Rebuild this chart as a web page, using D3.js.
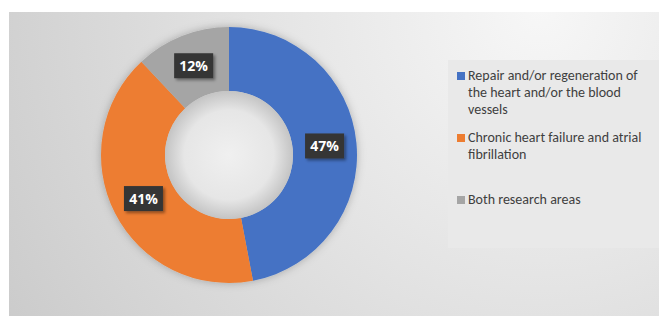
<!DOCTYPE html>
<html lang="en">
<head>
  <meta charset="UTF-8">
  <title>Research areas donut</title>
  <script src="https://d3js.org/d3.v7.min.js"></script>
  <style>
    body { margin: 0; background: #fff; }
    .legend-text { font-family: Carlito, Lato, "Open Sans", sans-serif; font-size: 14px; fill: #3f3f3f; }
    .pct { font-family: "Open Sans", Lato, sans-serif; font-size: 14px; font-weight: 700; fill: #fff; }
  </style>
</head>
<body>
<svg id="chart" width="659" height="316"></svg>

<script>
  // Data
  const categories = [
    "Repair and/or regeneration of the heart and/or the blood vessels",
    "Chronic heart failure and atrial fibrillation",
    "Both research areas"
  ];
  const values = [47, 41, 12];
  const colors = ["#4472c4", "#ed7d31", "#a5a5a5"];
  // legend text broken into lines as in the picture
  const legendLines = [
    ["Repair and/or regeneration of", "the heart and/or the blood", "vessels"],
    ["Chronic heart failure and atrial", "fibrillation"],
    ["Both research areas"]
  ];

  const width = 659, height = 316;
  const svg = d3.select("#chart");
  const defs = svg.append("defs");

  // background panel gradient
  const bg = defs.append("radialGradient")
    .attr("id", "bg")
    .attr("gradientUnits", "userSpaceOnUse")
    .attr("cx", 540).attr("cy", 10).attr("r", 620);
  bg.append("stop").attr("offset", "0%").attr("stop-color", "#f7f7f7");
  bg.append("stop").attr("offset", "45%").attr("stop-color", "#e4e4e4");
  bg.append("stop").attr("offset", "100%").attr("stop-color", "#cbcbcb");

  // hole shading
  const hole = defs.append("radialGradient").attr("id", "hole");
  hole.append("stop").attr("offset", "0%").attr("stop-color", "#f0f0f0");
  hole.append("stop").attr("offset", "70%").attr("stop-color", "#e6e6e6");
  hole.append("stop").attr("offset", "100%").attr("stop-color", "#c4c4c4");

  const shadow = defs.append("filter").attr("id", "shadow")
    .attr("x", "-20%").attr("y", "-20%").attr("width", "140%").attr("height", "140%");
  shadow.append("feDropShadow").attr("dx", 0).attr("dy", 0)
    .attr("stdDeviation", 4).attr("flood-color", "#000").attr("flood-opacity", 0.25);

  const boxShadow = defs.append("filter").attr("id", "boxShadow")
    .attr("x", "-30%").attr("y", "-30%").attr("width", "160%").attr("height", "160%");
  boxShadow.append("feDropShadow").attr("dx", 2).attr("dy", 2)
    .attr("stdDeviation", 1.5).attr("flood-color", "#000").attr("flood-opacity", 0.4);

  svg.append("rect")
    .attr("x", 9).attr("y", 12)
    .attr("width", width - 9).attr("height", height - 12)
    .attr("fill", "url(#bg)");

  // Donut
  const cx = 229, cy = 155, outerR = 128, innerR = 64;
  const g = svg.append("g").attr("transform", `translate(${cx},${cy})`);

  const pie = d3.pie().sort(null).value(d => d);
  const arcs = pie(values);
  const arc = d3.arc().innerRadius(innerR).outerRadius(outerR);
  const labelArc = d3.arc().innerRadius(96).outerRadius(96);

  g.append("g").attr("filter", "url(#shadow)")
    .selectAll("path")
    .data(arcs)
    .join("path")
    .attr("d", arc)
    .attr("fill", (d, i) => colors[i]);

  g.append("circle").attr("r", innerR).attr("fill", "url(#hole)");

  // value labels
  const lab = g.selectAll("g.lab")
    .data(arcs)
    .join("g")
    .attr("class", "lab")
    .attr("transform", d => `translate(${labelArc.centroid(d)})`);

  lab.append("rect")
    .attr("x", -19.5).attr("y", -12.5)
    .attr("width", 39).attr("height", 25)
    .attr("fill", "#353535")
    .attr("filter", "url(#boxShadow)");

  lab.append("text")
    .attr("class", "pct")
    .attr("text-anchor", "middle")
    .attr("dy", "0.36em")
    .text(d => d.data + "%");

  // Legend
  svg.append("rect")
    .attr("x", 448).attr("y", 60)
    .attr("width", width - 448).attr("height", 188)
    .attr("fill", "#e9e9e9");

  const legendY = [80, 142, 204];
  const lg = svg.append("g");
  legendLines.forEach((lines, i) => {
    const item = lg.append("g").attr("transform", `translate(457,${legendY[i]})`);
    item.append("rect")
      .attr("x", 0).attr("y", -8)
      .attr("width", 8).attr("height", 8)
      .attr("fill", colors[i]);
    item.append("text")
      .attr("class", "legend-text")
      .selectAll("tspan")
      .data(lines)
      .join("tspan")
      .attr("x", 11)
      .attr("y", (d, j) => j * 16.8)
      .text(d => d);
  });
</script>
</body>
</html>
